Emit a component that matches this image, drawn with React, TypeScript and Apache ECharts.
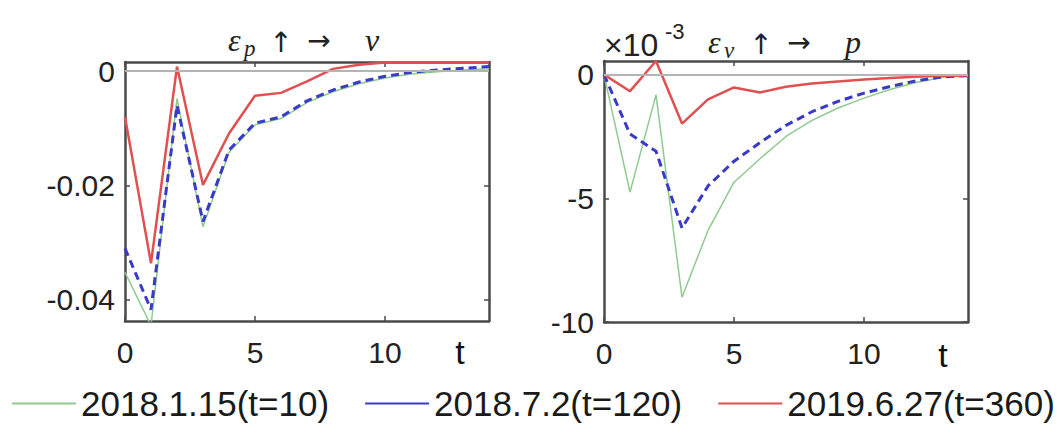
import React, { useEffect, useRef } from "react";
import * as echarts from "echarts";

// time steps (x axis)
const tSteps = [0, 1, 2, 3, 4, 5, 6, 7, 8, 9, 10, 11, 12, 13, 14];
const seriesNames = ["2018.1.15(t=10)", "2018.7.2(t=120)", "2019.6.27(t=360)"];

// left panel: response of v to eps_p shock
const vGreen = [-0.0352, -0.0445, -0.0048, -0.0272, -0.0142, -0.0094, -0.0083, -0.0055, -0.0036, -0.0022, -0.0012, -0.0005, -0.0001, 0.0002, 0.0004];
const vBlue = [-0.031, -0.0417, -0.006, -0.0263, -0.0138, -0.0091, -0.008, -0.0052, -0.0033, -0.0019, -0.0009, -0.0002, 0.0002, 0.0005, 0.0008];
const vRed = [-0.008, -0.0336, 0.0008, -0.0199, -0.0109, -0.0043, -0.0038, -0.0018, 0.0004, 0.0011, 0.0015, 0.0015, 0.0015, 0.0015, 0.0015];

// right panel: response of p to eps_v shock (units of 1e-3)
const pGreen = [0, -4.75, -0.82, -9.0, -6.3, -4.35, -3.4, -2.5, -1.85, -1.35, -0.95, -0.6, -0.32, -0.12, -0.05];
const pBlue = [0, -2.4, -3.1, -6.2, -4.5, -3.5, -2.75, -2.05, -1.5, -1.08, -0.75, -0.48, -0.25, -0.09, -0.04];
const pRed = [0, -0.67, 0.55, -1.98, -1.0, -0.52, -0.72, -0.49, -0.36, -0.28, -0.2, -0.14, -0.09, -0.05, -0.04];

// tick labels
const xTicks = [0, 5, 10];
const vTicks = [-0.04, -0.02, 0];
const pTicks = [-10, -5, 0];

const GREEN = "#8fca8f";
const BLUE = "#3a3ac8";
const RED = "#e05050";
const AXIS = "#4a4a4a";
const LABEL = "#222";

function App() {
  const ref = useRef<HTMLDivElement>(null);
  useEffect(() => {
    if (!ref.current) return;
    const chart = echarts.init(ref.current, undefined, { renderer: "svg" });

    const axisLine = { show: true, onZero: false, lineStyle: { color: AXIS, width: 2.5 } };
    const tickStyle = { color: AXIS, width: 1.5 };
    const labelFont = { fontSize: 30, fontFamily: "Liberation Sans", color: LABEL };

    const xAxes: any[] = [];
    const yAxes: any[] = [];
    const ranges = [
      { min: -0.0437, max: 0.0016, ticks: vTicks, fmt: (v: number) => (v === 0 ? "0" : v.toFixed(2)) },
      { min: -10, max: 0.55, ticks: pTicks, fmt: (v: number) => String(v) },
    ];
    [0, 1].forEach((g) => {
      xAxes.push({
        type: "value", gridIndex: g, min: 0, max: 14, position: "bottom",
        axisLine,
        axisTick: { show: true, inside: true, length: 5, customValues: xTicks, lineStyle: tickStyle },
        axisLabel: { show: true, customValues: xTicks, margin: 16, ...labelFont },
        splitLine: { show: false },
      });
      xAxes.push({
        type: "value", gridIndex: g, min: 0, max: 14, position: "top",
        axisLine,
        axisTick: { show: true, inside: true, length: 5, customValues: xTicks, lineStyle: tickStyle },
        axisLabel: { show: false },
        splitLine: { show: false },
      });
      const r = ranges[g];
      yAxes.push({
        type: "value", gridIndex: g, min: r.min, max: r.max, position: "left",
        axisLine,
        axisTick: { show: true, inside: true, length: 5, customValues: r.ticks, lineStyle: tickStyle },
        axisLabel: { show: true, customValues: r.ticks, formatter: r.fmt, margin: 10, ...labelFont },
        splitLine: { show: false },
      });
      yAxes.push({
        type: "value", gridIndex: g, min: r.min, max: r.max, position: "right",
        axisLine,
        axisTick: { show: true, inside: true, length: 5, customValues: r.ticks, lineStyle: tickStyle },
        axisLabel: { show: false },
        splitLine: { show: false },
      });
    });

    const mk = (name: string, g: number, vals: number[], color: string, width: number, type: any, zero: boolean) => ({
      type: "line",
      name,
      xAxisIndex: g * 2,
      yAxisIndex: g * 2,
      data: tSteps.map((t, i) => [t, vals[i]]),
      symbol: "none",
      showSymbol: false,
      clip: true,
      lineStyle: { color, width, type },
      itemStyle: { color },
      emphasis: { disabled: true },
      markLine: zero
        ? {
            silent: true,
            symbol: "none",
            label: { show: false },
            lineStyle: { color: "#b4b4b4", width: 2, type: "solid" },
            data: [{ yAxis: 0 }],
          }
        : undefined,
    });

    const dash = [8, 5];
    const series = [
      mk(seriesNames[0], 0, vGreen, GREEN, 1.5, "solid", true),
      mk(seriesNames[1], 0, vBlue, BLUE, 3, dash, false),
      mk(seriesNames[2], 0, vRed, RED, 2.5, "solid", false),
      mk(seriesNames[0], 1, pGreen, GREEN, 1.5, "solid", true),
      mk(seriesNames[1], 1, pBlue, BLUE, 3, dash, false),
      mk(seriesNames[2], 1, pRed, RED, 2.5, "solid", false),
    ];

    const serifIt = (size: number) => `italic ${size}px "Liberation Serif", "DejaVu Serif", serif`;
    const arrowFont = (size: number) => `${size}px "DejaVu Sans", sans-serif`;
    const sans = (size: number) => `${size}px "Liberation Sans", Arial, sans-serif`;

    const titleParts = (x0: number, y: number, sub: string, target: string) => [
      { type: "text", x: x0, y, style: { text: "ε", font: serifIt(32), fill: LABEL, align: "left", verticalAlign: "middle" } },
      { type: "text", x: x0 + 16, y: y + 8, style: { text: sub, font: serifIt(23), fill: LABEL, align: "left", verticalAlign: "middle" } },
      { type: "text", x: x0 + 53, y: y + 2, style: { text: "↑", font: arrowFont(28), fill: LABEL, align: "center", verticalAlign: "middle" } },
      { type: "text", x: x0 + 91, y, style: { text: "→", font: arrowFont(28), fill: LABEL, align: "center", verticalAlign: "middle" } },
      { type: "text", x: x0 + 137, y, style: { text: target, font: serifIt(32), fill: LABEL, align: "left", verticalAlign: "middle" } },
    ];

    const graphic = [
      ...titleParts(228, 40, "p", "v"),
      ...titleParts(708, 42, "v", "p"),
      { type: "text", x: 604, y: 45, style: { text: "×10", font: sans(32), fill: LABEL, align: "left", verticalAlign: "middle" } },
      { type: "text", x: 665, y: 31, style: { text: "-3", font: sans(22), fill: LABEL, align: "left", verticalAlign: "middle" } },
      { type: "text", x: 460, y: 352, style: { text: "t", font: sans(34), fill: "#111", align: "center", verticalAlign: "middle" } },
      { type: "text", x: 943, y: 355, style: { text: "t", font: sans(34), fill: "#111", align: "center", verticalAlign: "middle" } },
    ];

    chart.setOption({
      animation: false,
      backgroundColor: "#ffffff",
      grid: [
        { left: 125, top: 62, width: 364, height: 259 },
        { left: 604, top: 61, width: 364, height: 261 },
      ],
      xAxis: xAxes,
      yAxis: yAxes,
      legend: {
        data: seriesNames,
        left: 12,
        top: 386,
        padding: 0,
        icon: "rect",
        itemWidth: 64,
        itemHeight: 2,
        itemGap: 36,
        textStyle: { fontFamily: '"Liberation Sans", Arial, sans-serif', fontSize: 35, color: "#1a1a1a" },
      },
      graphic,
      series,
    });
    return () => chart.dispose();
  }, []);
  return <div ref={ref} style={{ position: "absolute", left: 0, top: 0, width: 1062, height: 428 }} />;
}

export default App;
